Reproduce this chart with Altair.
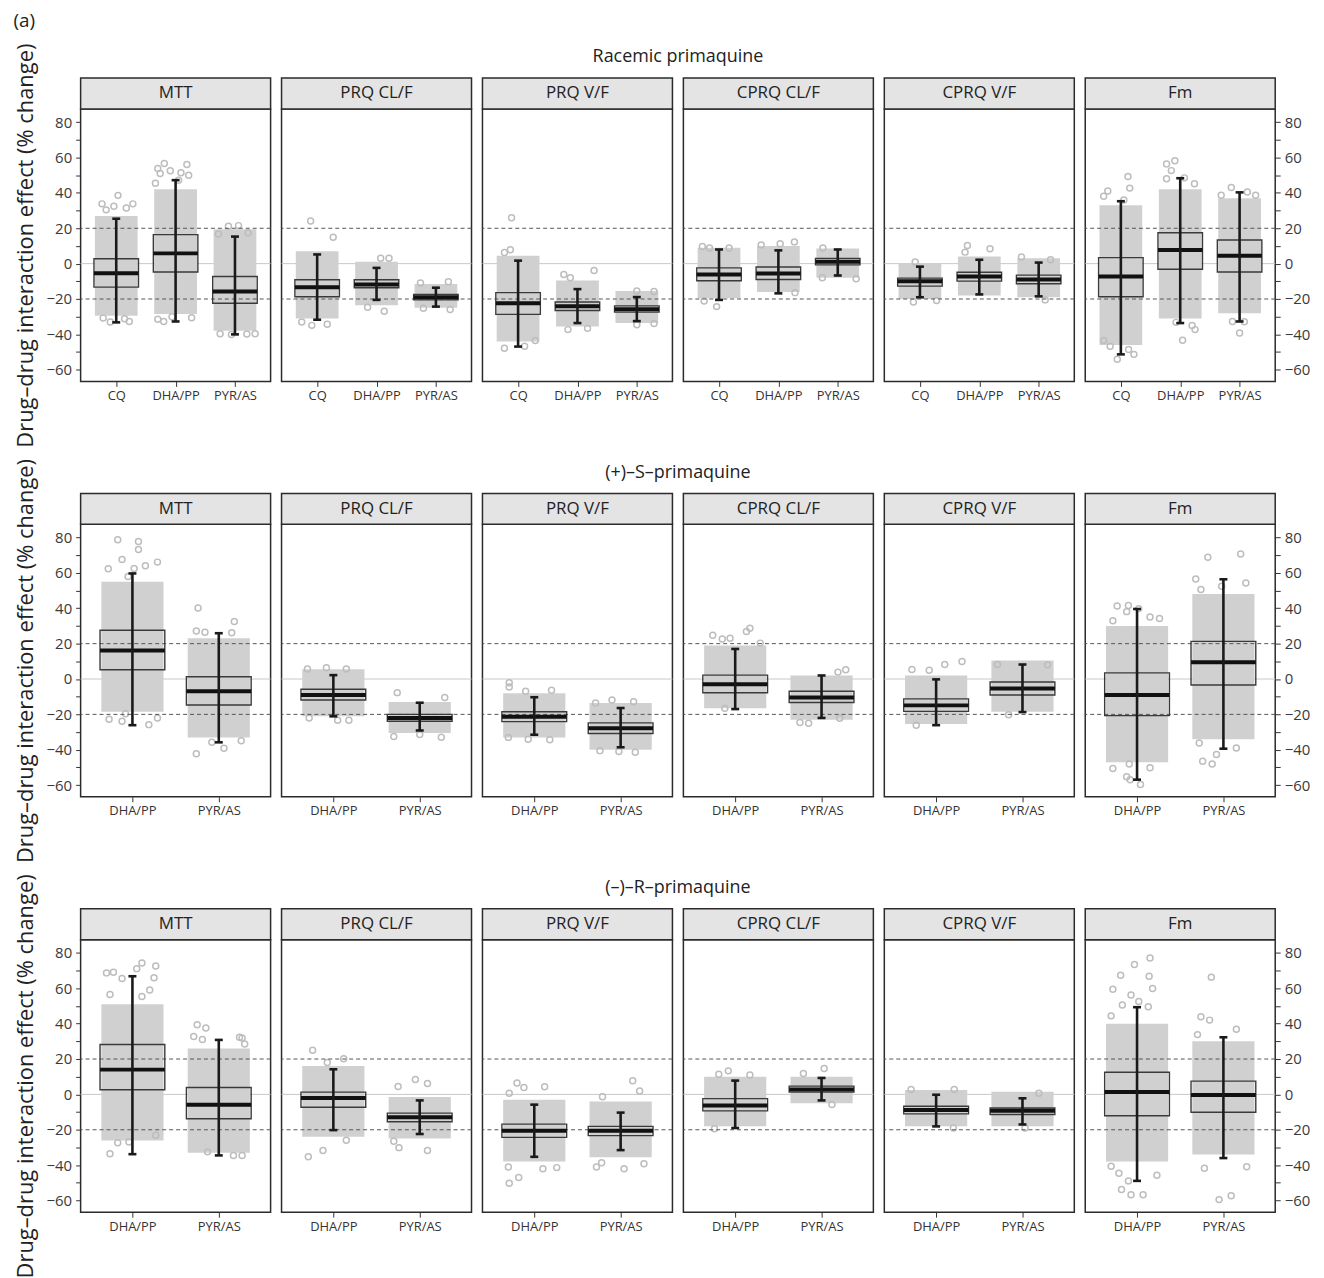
import json
import altair as alt
import pandas as pd

# ---------------- data ----------------
PARAMS = ["MTT", "PRQ CL/F", "PRQ V/F", "CPRQ CL/F", "CPRQ V/F", "Fm"]
ROW_TITLES = ["Racemic primaquine", "(+)–S–primaquine", "(–)–R–primaquine"]
DRUGS_RAC = ["CQ", "DHA/PP", "PYR/AS"]
DRUGS_ENAN = ["DHA/PP", "PYR/AS"]
Y_TITLE = "Drug–drug interaction effect (% change)"
TICK_VALUES = [-60, -50, -40, -30, -20, -10, 0, 10, 20, 30, 40, 50, 60, 70, 80]
DASHED = [-20, 20]
ZERO = [0]

# Racemic primaquine: one inner list per parameter, one value per drug (CQ, DHA/PP, PYR/AS)
RAC_WLO = [[-33.2, -32.7, -40.0], [-31.7, -20.5, -24.3], [-46.9, -33.6, -32.5], [-20.5, -16.8, -6.7], [-19.0, -17.4, -18.5], [-51.3, -33.6, -32.7]]
RAC_Q1 = [[-13.3, -4.7, -22.4], [-18.7, -13.6, -20.5], [-28.7, -26.5, -27.4], [-9.7, -9.0, -0.7], [-12.7, -9.9, -11.4], [-18.7, -3.2, -4.7]]
RAC_MED = [[-5.4, 5.8, -15.7], [-13.3, -11.8, -19.0], [-22.4, -24.1, -25.8], [-6.2, -5.6, 1.1], [-9.9, -7.3, -9.0], [-7.3, 7.7, 4.5]]
RAC_Q3 = [[2.8, 16.4, -7.3], [-9.1, -9.1, -17.4], [-16.4, -21.7, -23.9], [-2.4, -1.9, 3.0], [-8.2, -4.9, -6.5], [3.4, 17.5, 13.4]]
RAC_WHI = [[25.4, 47.2, 15.3], [5.2, -2.4, -13.6], [1.7, -14.4, -18.9], [8.0, 7.5, 8.0], [-1.7, 2.2, 0.6], [35.3, 48.3, 40.3]]
RAC_CLO = [[-29.5, -28.5, -38.0], [-31.0, -23.5, -25.0], [-44.0, -35.5, -33.5], [-19.5, -16.0, -8.0], [-20.0, -18.0, -19.0], [-46.0, -31.0, -28.0]]
RAC_CHI = [[27.0, 42.0, 19.5], [7.0, 1.0, -11.5], [4.5, -9.5, -15.5], [9.0, 10.0, 8.5], [0.0, 4.0, 3.0], [33.0, 42.0, 37.0]]

# (+)-S-primaquine: per parameter, (DHA/PP, PYR/AS)
S_WLO = [[-26.1, -35.8], [-21.1, -29.1], [-31.5, -38.6], [-17.0, -22.0], [-26.1, -18.7], [-56.9, -39.4]]
S_Q1 = [[5.2, -14.7], [-11.9, -23.9], [-24.1, -30.8], [-7.8, -13.3], [-18.3, -9.0], [-20.7, -3.4]]
S_MED = [[16.1, -6.9], [-9.0, -22.0], [-21.3, -27.8], [-3.0, -10.5], [-14.9, -5.4], [-9.0, 9.5]]
S_Q3 = [[27.6, 1.3], [-5.8, -20.0], [-18.5, -24.8], [2.2, -6.9], [-11.2, -1.7], [3.5, 21.3]]
S_WHI = [[59.7, 25.9], [2.2, -13.4], [-10.3, -16.4], [17.0, 2.0], [-0.2, 8.2], [39.6, 56.4]]
S_CLO = [[-18.5, -33.0], [-21.0, -30.5], [-33.0, -40.0], [-16.5, -23.0], [-25.5, -18.5], [-47.0, -34.0]]
S_CHI = [[55.0, 23.0], [5.5, -13.0], [-8.0, -13.5], [19.0, 2.0], [2.0, 10.5], [30.0, 48.0]]

# (-)-R-primaquine: per parameter, (DHA/PP, PYR/AS)
R_WLO = [[-33.8, -34.5], [-20.2, -22.4], [-35.3, -31.5], [-19.0, -3.4], [-18.1, -17.0], [-48.9, -36.0]]
R_Q1 = [[2.6, -13.8], [-7.3, -15.5], [-24.3, -23.3], [-9.3, 1.3], [-11.0, -11.4], [-12.1, -10.1]]
R_MED = [[14.0, -5.8], [-2.1, -12.9], [-20.5, -20.5], [-6.3, 2.8], [-8.8, -9.3], [1.3, -0.4]]
R_Q3 = [[28.2, 3.9], [1.3, -10.6], [-16.8, -18.1], [-2.4, 4.7], [-6.7, -7.7], [12.5, 7.5]]
R_WHI = [[66.8, 30.8], [14.2, -3.4], [-5.8, -10.3], [7.8, 9.3], [-0.2, -2.2], [49.3, 32.3]]
R_CLO = [[-26.0, -33.0], [-24.0, -25.0], [-38.0, -35.5], [-18.0, -5.0], [-18.0, -18.0], [-38.0, -34.0]]
R_CHI = [[51.0, 26.0], [16.0, -1.5], [-3.0, -4.0], [10.0, 10.0], [2.5, 1.5], [40.0, 30.0]]

# isolated simulated points outside the dense clouds: (parameter, drug, value, jitter within band)
RAC_OUT = [
    ("MTT", "CQ", 38.6, 0.03), ("MTT", "CQ", 33.8, -0.24), ("MTT", "CQ", 32.5, -0.04), ("MTT", "CQ", 33.8, 0.28),
    ("MTT", "CQ", 31.4, 0.17), ("MTT", "CQ", 30.4, -0.17), ("MTT", "CQ", -33.0, -0.1), ("MTT", "CQ", -32.7, 0.22),
    ("MTT", "CQ", -30.8, -0.22), ("MTT", "CQ", -31.2, 0.14),
    ("MTT", "DHA/PP", 56.6, -0.19), ("MTT", "DHA/PP", 56.0, 0.19), ("MTT", "DHA/PP", 53.8, -0.3), ("MTT", "DHA/PP", 52.5, -0.09),
    ("MTT", "DHA/PP", 51.4, 0.09), ("MTT", "DHA/PP", 50.0, 0.22), ("MTT", "DHA/PP", 51.0, -0.26), ("MTT", "DHA/PP", 47.2, 0.05),
    ("MTT", "DHA/PP", 45.4, -0.34), ("MTT", "DHA/PP", -31.5, -0.3), ("MTT", "DHA/PP", -32.7, -0.2), ("MTT", "DHA/PP", -30.6, 0.27),
    ("MTT", "DHA/PP", -30.0, -0.06),
    ("MTT", "PYR/AS", 21.1, -0.11), ("MTT", "PYR/AS", 21.5, 0.06), ("MTT", "PYR/AS", 16.8, -0.28), ("MTT", "PYR/AS", 17.4, 0.22),
    ("MTT", "PYR/AS", -39.6, -0.25), ("MTT", "PYR/AS", -40.1, -0.06), ("MTT", "PYR/AS", -39.8, 0.2), ("MTT", "PYR/AS", -39.6, 0.34),
    ("PRQ CL/F", "CQ", 24.1, -0.11), ("PRQ CL/F", "CQ", 14.9, 0.27), ("PRQ CL/F", "CQ", -34.9, -0.09),
    ("PRQ CL/F", "CQ", -34.3, 0.17), ("PRQ CL/F", "CQ", -33.0, -0.26),
    ("PRQ CL/F", "DHA/PP", 3.0, 0.07), ("PRQ CL/F", "DHA/PP", 3.0, 0.21), ("PRQ CL/F", "DHA/PP", -26.9, 0.13), ("PRQ CL/F", "DHA/PP", -24.6, -0.15),
    ("PRQ CL/F", "PYR/AS", -11.0, -0.26), ("PRQ CL/F", "PYR/AS", -10.3, 0.21), ("PRQ CL/F", "PYR/AS", -25.9, 0.24), ("PRQ CL/F", "PYR/AS", -25.2, -0.21),
    ("PRQ V/F", "CQ", 25.9, -0.11), ("PRQ V/F", "CQ", 6.3, -0.23), ("PRQ V/F", "CQ", 7.8, -0.13), ("PRQ V/F", "CQ", -47.8, -0.23),
    ("PRQ V/F", "CQ", -46.7, 0.11), ("PRQ V/F", "CQ", -43.5, 0.29),
    ("PRQ V/F", "DHA/PP", -3.9, 0.28), ("PRQ V/F", "DHA/PP", -6.2, -0.23), ("PRQ V/F", "DHA/PP", -8.0, -0.12),
    ("PRQ V/F", "DHA/PP", -37.3, -0.16), ("PRQ V/F", "DHA/PP", -36.6, 0.17),
    ("PRQ V/F", "PYR/AS", -15.5, 0.0), ("PRQ V/F", "PYR/AS", -15.8, 0.29), ("PRQ V/F", "PYR/AS", -34.5, 0.0), ("PRQ V/F", "PYR/AS", -33.8, 0.29),
    ("CPRQ CL/F", "CQ", 9.7, -0.28), ("CPRQ CL/F", "CQ", 8.8, -0.16), ("CPRQ CL/F", "CQ", 8.8, 0.17), ("CPRQ CL/F", "CQ", -24.3, -0.04),
    ("CPRQ CL/F", "CQ", -21.1, -0.25),
    ("CPRQ CL/F", "DHA/PP", 12.3, 0.27), ("CPRQ CL/F", "DHA/PP", 11.2, 0.03), ("CPRQ CL/F", "DHA/PP", 10.6, -0.29), ("CPRQ CL/F", "DHA/PP", -16.4, 0.28),
    ("CPRQ CL/F", "PYR/AS", 8.8, -0.25), ("CPRQ CL/F", "PYR/AS", -8.6, 0.31), ("CPRQ CL/F", "PYR/AS", -8.0, -0.26),
    ("CPRQ V/F", "CQ", 0.9, -0.08), ("CPRQ V/F", "CQ", -21.7, -0.11), ("CPRQ V/F", "CQ", -20.9, 0.28),
    ("CPRQ V/F", "DHA/PP", 10.3, -0.2), ("CPRQ V/F", "DHA/PP", 8.4, 0.18), ("CPRQ V/F", "DHA/PP", 6.5, -0.24),
    ("CPRQ V/F", "PYR/AS", 3.7, -0.29), ("CPRQ V/F", "PYR/AS", 2.2, 0.2), ("CPRQ V/F", "PYR/AS", -20.5, 0.11),
    ("Fm", "CQ", 49.3, 0.12), ("Fm", "CQ", 42.7, 0.15), ("Fm", "CQ", 41.1, -0.22), ("Fm", "CQ", 38.1, -0.29), ("Fm", "CQ", 36.0, 0.05),
    ("Fm", "CQ", -54.1, -0.06), ("Fm", "CQ", -51.3, 0.22), ("Fm", "CQ", -48.5, 0.13), ("Fm", "CQ", -46.7, -0.18), ("Fm", "CQ", -43.5, -0.29),
    ("Fm", "DHA/PP", 58.2, -0.09), ("Fm", "DHA/PP", 56.4, -0.23), ("Fm", "DHA/PP", 52.6, -0.15), ("Fm", "DHA/PP", 48.5, 0.07),
    ("Fm", "DHA/PP", 48.0, -0.23), ("Fm", "DHA/PP", 45.2, 0.24), ("Fm", "DHA/PP", -43.3, 0.04), ("Fm", "DHA/PP", -37.3, 0.25),
    ("Fm", "DHA/PP", -33.2, -0.07), ("Fm", "DHA/PP", -35.0, 0.2),
    ("Fm", "PYR/AS", 43.1, -0.14), ("Fm", "PYR/AS", 40.5, 0.13), ("Fm", "PYR/AS", 38.7, -0.31), ("Fm", "PYR/AS", 38.7, 0.27),
    ("Fm", "PYR/AS", -39.2, 0.0), ("Fm", "PYR/AS", -32.7, -0.12), ("Fm", "PYR/AS", -32.9, 0.08),
]
S_OUT = [
    ("MTT", "DHA/PP", 78.8, -0.17), ("MTT", "DHA/PP", 77.8, 0.07), ("MTT", "DHA/PP", 73.2, 0.07), ("MTT", "DHA/PP", 67.6, -0.12),
    ("MTT", "DHA/PP", 66.1, 0.29), ("MTT", "DHA/PP", 62.3, -0.28), ("MTT", "DHA/PP", 64.0, 0.15), ("MTT", "DHA/PP", 62.5, 0.02),
    ("MTT", "DHA/PP", 58.0, -0.05), ("MTT", "DHA/PP", -25.8, 0.19), ("MTT", "DHA/PP", -23.9, -0.12), ("MTT", "DHA/PP", -22.0, 0.29),
    ("MTT", "DHA/PP", -22.8, -0.27), ("MTT", "DHA/PP", -19.6, -0.08),
    ("MTT", "PYR/AS", 40.1, -0.24), ("MTT", "PYR/AS", 32.5, 0.18), ("MTT", "PYR/AS", 27.1, -0.26), ("MTT", "PYR/AS", 26.5, -0.16),
    ("MTT", "PYR/AS", 26.1, 0.15), ("MTT", "PYR/AS", -42.2, -0.26), ("MTT", "PYR/AS", -39.2, 0.06), ("MTT", "PYR/AS", -35.8, -0.08),
    ("MTT", "PYR/AS", -34.9, 0.26),
    ("PRQ CL/F", "DHA/PP", 5.7, -0.3), ("PRQ CL/F", "DHA/PP", 6.4, -0.08), ("PRQ CL/F", "DHA/PP", 5.7, 0.15),
    ("PRQ CL/F", "DHA/PP", -23.3, 0.05), ("PRQ CL/F", "DHA/PP", -23.3, 0.18), ("PRQ CL/F", "DHA/PP", -22.0, -0.28),
    ("PRQ CL/F", "PYR/AS", -7.7, -0.26), ("PRQ CL/F", "PYR/AS", -10.5, 0.29), ("PRQ CL/F", "PYR/AS", -32.5, -0.3),
    ("PRQ CL/F", "PYR/AS", -32.9, 0.25), ("PRQ CL/F", "PYR/AS", -31.4, 0.0),
    ("PRQ V/F", "DHA/PP", -2.1, -0.29), ("PRQ V/F", "DHA/PP", -4.5, -0.29), ("PRQ V/F", "DHA/PP", -6.3, 0.2), ("PRQ V/F", "DHA/PP", -6.9, -0.1),
    ("PRQ V/F", "DHA/PP", -34.0, -0.07), ("PRQ V/F", "DHA/PP", -34.3, 0.18), ("PRQ V/F", "DHA/PP", -33.0, -0.3),
    ("PRQ V/F", "PYR/AS", -11.9, -0.1), ("PRQ V/F", "PYR/AS", -13.5, -0.29), ("PRQ V/F", "PYR/AS", -12.8, 0.15),
    ("PRQ V/F", "PYR/AS", -41.4, 0.17), ("PRQ V/F", "PYR/AS", -40.5, -0.24), ("PRQ V/F", "PYR/AS", -41.0, -0.02),
    ("CPRQ CL/F", "DHA/PP", 28.7, 0.17), ("CPRQ CL/F", "DHA/PP", 26.9, 0.13), ("CPRQ CL/F", "DHA/PP", 24.8, -0.26),
    ("CPRQ CL/F", "DHA/PP", 23.1, -0.06), ("CPRQ CL/F", "DHA/PP", 20.3, 0.29), ("CPRQ CL/F", "DHA/PP", 22.6, -0.15),
    ("CPRQ CL/F", "DHA/PP", -16.6, -0.12),
    ("CPRQ CL/F", "PYR/AS", 5.2, 0.28), ("CPRQ CL/F", "PYR/AS", 3.9, 0.19), ("CPRQ CL/F", "PYR/AS", -24.6, -0.25),
    ("CPRQ CL/F", "PYR/AS", -25.0, -0.15), ("CPRQ CL/F", "PYR/AS", -22.2, 0.21),
    ("CPRQ V/F", "DHA/PP", 9.9, 0.3), ("CPRQ V/F", "DHA/PP", 8.2, 0.1), ("CPRQ V/F", "DHA/PP", 5.4, -0.28),
    ("CPRQ V/F", "DHA/PP", 4.9, -0.08), ("CPRQ V/F", "DHA/PP", -26.1, -0.23),
    ("CPRQ V/F", "PYR/AS", 8.0, 0.29), ("CPRQ V/F", "PYR/AS", 8.2, -0.29), ("CPRQ V/F", "PYR/AS", -20.2, -0.16),
    ("Fm", "DHA/PP", 41.3, -0.23), ("Fm", "DHA/PP", 41.6, -0.1), ("Fm", "DHA/PP", 39.8, 0.02), ("Fm", "DHA/PP", 38.1, -0.12),
    ("Fm", "DHA/PP", 32.9, -0.28), ("Fm", "DHA/PP", 34.2, 0.26), ("Fm", "DHA/PP", 35.1, 0.15), ("Fm", "DHA/PP", -59.7, 0.04),
    ("Fm", "DHA/PP", -56.9, -0.08), ("Fm", "DHA/PP", -55.3, -0.12), ("Fm", "DHA/PP", -50.6, -0.28), ("Fm", "DHA/PP", -48.0, -0.09),
    ("Fm", "DHA/PP", -50.2, 0.15),
    ("Fm", "PYR/AS", 70.7, 0.2), ("Fm", "PYR/AS", 68.9, -0.18), ("Fm", "PYR/AS", 56.6, -0.32), ("Fm", "PYR/AS", 54.3, 0.26),
    ("Fm", "PYR/AS", 52.5, -0.02), ("Fm", "PYR/AS", 50.6, -0.26), ("Fm", "PYR/AS", -46.5, -0.24), ("Fm", "PYR/AS", -48.0, -0.13),
    ("Fm", "PYR/AS", -42.7, -0.08), ("Fm", "PYR/AS", -36.2, -0.28), ("Fm", "PYR/AS", -39.0, 0.15),
]
R_OUT = [
    ("MTT", "DHA/PP", 74.3, 0.11), ("MTT", "DHA/PP", 72.6, 0.27), ("MTT", "DHA/PP", 71.1, 0.05), ("MTT", "DHA/PP", 68.7, -0.3),
    ("MTT", "DHA/PP", 69.1, -0.22), ("MTT", "DHA/PP", 65.5, -0.12), ("MTT", "DHA/PP", 65.9, 0.25), ("MTT", "DHA/PP", 59.0, 0.2),
    ("MTT", "DHA/PP", 56.5, -0.26), ("MTT", "DHA/PP", 55.3, 0.11), ("MTT", "DHA/PP", -33.6, -0.26), ("MTT", "DHA/PP", -26.9, -0.04),
    ("MTT", "DHA/PP", -27.4, -0.17), ("MTT", "DHA/PP", -23.1, 0.27),
    ("MTT", "PYR/AS", 39.4, -0.25), ("MTT", "PYR/AS", 37.5, -0.15), ("MTT", "PYR/AS", 32.7, -0.29), ("MTT", "PYR/AS", 31.0, -0.19),
    ("MTT", "PYR/AS", 32.3, 0.24), ("MTT", "PYR/AS", 31.9, 0.27), ("MTT", "PYR/AS", 28.5, 0.3), ("MTT", "PYR/AS", -34.5, 0.17),
    ("MTT", "PYR/AS", -34.5, 0.27), ("MTT", "PYR/AS", -32.5, -0.13),
    ("PRQ CL/F", "DHA/PP", 25.0, -0.24), ("PRQ CL/F", "DHA/PP", 20.2, 0.12), ("PRQ CL/F", "DHA/PP", 18.0, -0.07),
    ("PRQ CL/F", "DHA/PP", -35.3, -0.29), ("PRQ CL/F", "DHA/PP", -31.7, -0.12), ("PRQ CL/F", "DHA/PP", -25.9, 0.15),
    ("PRQ CL/F", "PYR/AS", 8.4, -0.05), ("PRQ CL/F", "PYR/AS", 6.2, 0.09), ("PRQ CL/F", "PYR/AS", 4.5, -0.25),
    ("PRQ CL/F", "PYR/AS", -31.7, 0.09), ("PRQ CL/F", "PYR/AS", -30.1, -0.24), ("PRQ CL/F", "PYR/AS", -26.5, -0.3),
    ("PRQ V/F", "DHA/PP", 6.5, -0.2), ("PRQ V/F", "DHA/PP", 4.3, 0.12), ("PRQ V/F", "DHA/PP", 3.9, -0.12), ("PRQ V/F", "DHA/PP", 0.6, -0.29),
    ("PRQ V/F", "DHA/PP", -50.2, -0.29), ("PRQ V/F", "DHA/PP", -47.0, -0.18), ("PRQ V/F", "DHA/PP", -42.0, 0.1),
    ("PRQ V/F", "DHA/PP", -41.4, 0.26), ("PRQ V/F", "DHA/PP", -41.1, -0.3),
    ("PRQ V/F", "PYR/AS", 7.7, 0.14), ("PRQ V/F", "PYR/AS", 1.9, 0.22), ("PRQ V/F", "PYR/AS", -1.3, -0.21), ("PRQ V/F", "PYR/AS", -42.0, 0.04),
    ("PRQ V/F", "PYR/AS", -41.1, -0.28), ("PRQ V/F", "PYR/AS", -39.2, 0.27), ("PRQ V/F", "PYR/AS", -38.6, -0.22),
    ("CPRQ CL/F", "DHA/PP", 13.3, -0.08), ("CPRQ CL/F", "DHA/PP", 11.4, -0.19), ("CPRQ CL/F", "DHA/PP", 11.0, 0.17),
    ("CPRQ CL/F", "DHA/PP", -19.4, -0.24),
    ("CPRQ CL/F", "PYR/AS", 14.6, 0.03), ("CPRQ CL/F", "PYR/AS", 11.8, -0.21), ("CPRQ CL/F", "PYR/AS", -5.7, 0.12),
    ("CPRQ V/F", "DHA/PP", 2.8, -0.29), ("CPRQ V/F", "DHA/PP", 2.8, 0.21), ("CPRQ V/F", "DHA/PP", -19.0, 0.2),
    ("CPRQ V/F", "PYR/AS", 0.6, 0.19), ("CPRQ V/F", "PYR/AS", -19.0, 0.03),
    ("Fm", "DHA/PP", 77.1, 0.15), ("Fm", "DHA/PP", 73.4, -0.03), ("Fm", "DHA/PP", 67.4, -0.19), ("Fm", "DHA/PP", 66.8, 0.14),
    ("Fm", "DHA/PP", 59.4, -0.28), ("Fm", "DHA/PP", 59.9, 0.18), ("Fm", "DHA/PP", 56.2, -0.07), ("Fm", "DHA/PP", 52.5, 0.02),
    ("Fm", "DHA/PP", 50.6, -0.17), ("Fm", "DHA/PP", 49.5, 0.13), ("Fm", "DHA/PP", 44.4, -0.3), ("Fm", "DHA/PP", -56.7, 0.07),
    ("Fm", "DHA/PP", -56.7, -0.07), ("Fm", "DHA/PP", -53.8, -0.18), ("Fm", "DHA/PP", -44.6, -0.21), ("Fm", "DHA/PP", -45.7, 0.23),
    ("Fm", "DHA/PP", -48.9, -0.1), ("Fm", "DHA/PP", -40.6, -0.3),
    ("Fm", "PYR/AS", 66.3, -0.14), ("Fm", "PYR/AS", 43.9, -0.26), ("Fm", "PYR/AS", 42.0, -0.16), ("Fm", "PYR/AS", 36.8, 0.15),
    ("Fm", "PYR/AS", 33.8, -0.3), ("Fm", "PYR/AS", -59.5, -0.05), ("Fm", "PYR/AS", -57.3, 0.09), ("Fm", "PYR/AS", -41.8, -0.22),
    ("Fm", "PYR/AS", -40.9, 0.27),
]

# ---------------- styling ----------------
FONT = "Open Sans"
W, H, HH = 191, 274, 31          # panel width, panel height, strip height
Y_DOMAIN = [-66.6, 87.5]
DARK = "#2b2b2b"
CLOUD = "#d0d0d0"
POINT = "#bdbdbd"
BOX_HALF = 0.375
CLOUD_HALF = 0.36


def stats_frame(drugs, wlo, q1, med, q3, whi, clo, chi):
    recs = []
    for pi, p in enumerate(PARAMS):
        for di, d in enumerate(drugs):
            recs.append({"param": p, "drug": d, "wlo": wlo[pi][di], "q1": q1[pi][di],
                         "med": med[pi][di], "q3": q3[pi][di], "whi": whi[pi][di],
                         "clo": clo[pi][di], "chi": chi[pi][di]})
    return pd.DataFrame(recs)


ROWS = [
    (DRUGS_RAC, stats_frame(DRUGS_RAC, RAC_WLO, RAC_Q1, RAC_MED, RAC_Q3, RAC_WHI, RAC_CLO, RAC_CHI),
     pd.DataFrame(RAC_OUT, columns=["param", "drug", "y", "jit"])),
    (DRUGS_ENAN, stats_frame(DRUGS_ENAN, S_WLO, S_Q1, S_MED, S_Q3, S_WHI, S_CLO, S_CHI),
     pd.DataFrame(S_OUT, columns=["param", "drug", "y", "jit"])),
    (DRUGS_ENAN, stats_frame(DRUGS_ENAN, R_WLO, R_Q1, R_MED, R_Q3, R_WHI, R_CLO, R_CHI),
     pd.DataFrame(R_OUT, columns=["param", "drug", "y", "jit"])),
]


def y_axis(pi):
    common = dict(values=TICK_VALUES, labelExpr="datum.value % 20 === 0 ? datum.label : ''",
                  tickSize=5, tickColor="#333333", tickWidth=1, labelFontSize=15, labelColor="#3a3a3a",
                  labelFont=FONT, labelPadding=4, domain=False, grid=False)
    if pi == 0:
        return alt.Axis(orient="left", title=Y_TITLE, titleFont=FONT, titleFontSize=22,
                        titleFontWeight="normal", titleColor="#222222", titlePadding=9, **common)
    if pi == len(PARAMS) - 1:
        return alt.Axis(orient="right", title=None, **common)
    return None


def panel(ri, pi):
    drugs, stats, outs = ROWS[ri]
    p = PARAMS[pi]
    n = len(drugs)
    step = W / (n + 0.2)
    s = stats[stats["param"] == p]
    o = outs[outs["param"] == p]
    idx = f"indexof({json.dumps(drugs)}, datum.drug) + 1"

    xs = alt.Scale(domain=[0.4, n + 0.6], nice=False, zero=False)
    xax = alt.Axis(values=list(range(1, n + 1)), labelExpr=f"{json.dumps(drugs)}[datum.value - 1]",
                   title=None, labelAngle=0, labelFontSize=13, labelColor="#333333", labelFont=FONT,
                   tickSize=5, tickColor="#333333", domain=False, grid=False, labelPadding=3)
    ys = alt.Scale(domain=Y_DOMAIN, nice=False, zero=False)
    yax = y_axis(pi)

    def X(field):
        return alt.X(field, scale=xs, axis=xax)

    def Y(field):
        return alt.Y(field, scale=ys, axis=yax)

    base = (alt.Chart(s)
            .transform_calculate(pos=idx)
            .transform_calculate(b0=f"datum.pos - {BOX_HALF}", b1=f"datum.pos + {BOX_HALF}")
            .transform_calculate(c0=f"datum.pos - {CLOUD_HALF}", c1=f"datum.pos + {CLOUD_HALF}"))
    zero = alt.Chart(pd.DataFrame({"v": ZERO})).mark_rule(color="#c8c8c8", strokeWidth=1).encode(y=Y("v:Q"))
    cloud = base.mark_rect(color=CLOUD).encode(x=X("c0:Q"), x2="c1:Q", y=Y("clo:Q"), y2="chi:Q")
    pts = (alt.Chart(o).transform_calculate(pos=idx).transform_calculate(px="datum.pos + datum.jit")
           .mark_point(shape="circle", filled=False, color=POINT, size=36, strokeWidth=1.5, opacity=1)
           .encode(x=X("px:Q"), y=Y("y:Q")))
    dashed = alt.Chart(pd.DataFrame({"v": DASHED})).mark_rule(
        color="#555555", strokeWidth=1, strokeDash=[4, 3]).encode(y=Y("v:Q"))
    box = base.mark_rect(fillOpacity=0, stroke="#3a3a3a", strokeWidth=1.4).encode(
        x=X("b0:Q"), x2="b1:Q", y=Y("q1:Q"), y2="q3:Q")
    median = base.mark_tick(color="#111111", thickness=4, size=2 * BOX_HALF * step, orient="horizontal",
                            opacity=1).encode(x=X("pos:Q"), y=Y("med:Q"))
    whisk = base.mark_rule(color="#1a1a1a", strokeWidth=2.6).encode(x=X("pos:Q"), y=Y("wlo:Q"), y2="whi:Q")
    caps = (base.transform_fold(["wlo", "whi"], as_=["k", "v"])
            .mark_tick(color="#1a1a1a", thickness=2.6, size=8, orient="horizontal", opacity=1)
            .encode(x=X("pos:Q"), y=Y("v:Q")))

    strip = alt.Chart(pd.DataFrame({"label": [p]}))
    strip_rect = strip.mark_rect(fill="#e4e4e4", stroke=DARK, strokeWidth=1.5).encode(
        x=alt.value(0), x2=alt.value(W), y=alt.value(-HH), y2=alt.value(0))
    strip_text = strip.mark_text(font=FONT, fontSize=17, color="#222222").encode(
        x=alt.value(W / 2), y=alt.value(-HH / 2), text="label:N")

    layers = [zero, cloud, pts, dashed, box, median, whisk, caps, strip_rect, strip_text]
    if pi == 2:
        ttl = alt.Chart(pd.DataFrame({"label": [ROW_TITLES[ri]]})).mark_text(
            font=FONT, fontSize=18, color="#222222").encode(
            x=alt.value(W + 5.5), y=alt.value(-HH - 21), text="label:N")
        layers.append(ttl)
    return alt.layer(*layers).properties(
        width=W, height=H, view=alt.ViewBackground(stroke=DARK, strokeWidth=1.5))


rows = [alt.hconcat(*[panel(ri, pi) for pi in range(len(PARAMS))], spacing=11, bounds="flush") for ri in range(3)]

chart = alt.vconcat(*rows, spacing=9.6).properties(
    title=alt.TitleParams("(a)", anchor="start", fontSize=19, font=FONT, fontWeight="normal",
                          color="#222222", offset=11.7),
    padding={"left": 5, "top": 0, "right": 5, "bottom": 5},
).configure_view(stroke=DARK, strokeWidth=1.5).configure(font=FONT)

chart.save("out.html", embed_options={"renderer": "svg", "actions": False})
